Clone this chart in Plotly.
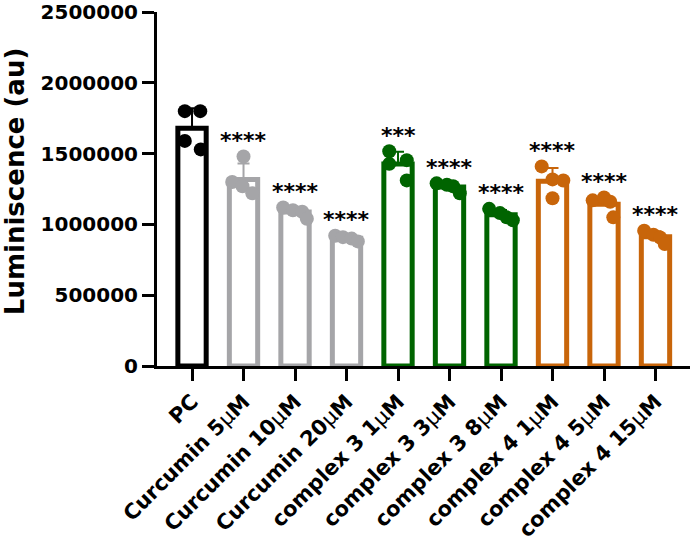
import plotly.graph_objects as go
import numpy as np

# ---- data ----
categories = ["PC", "Curcumin 5μM", "Curcumin 10μM", "Curcumin 20μM",
              "complex 3 1μM", "complex 3 3μM", "complex 3 8μM",
              "complex 4 1μM", "complex 4 5μM", "complex 4 15μM"]

pc        = [1800000, 1800000, 1590000, 1530000]
cur_5     = [1480000, 1300000, 1270000, 1220000]
cur_10    = [1120000, 1100000, 1090000, 1040000]
cur_20    = [920000, 910000, 900000, 880000]
c3_1      = [1517000, 1428000, 1454000, 1311000]
c3_3      = [1290000, 1280000, 1270000, 1220000]
c3_8      = [1110000, 1080000, 1050000, 1030000]
c4_1      = [1410000, 1318000, 1310000, 1185000]
c4_5      = [1170000, 1190000, 1160000, 1050000]
c4_15     = [955000, 927000, 908000, 862000]

stars = ["", "****", "****", "****", "***", "****", "****", "****", "****", "****"]

y_tick_vals = [0, 500000, 1000000, 1500000, 2000000, 2500000]
y_tick_text = ["0", "500000", "1000000", "1500000", "2000000", "2500000"]
y_title = "Luminiscence (au)"

# ---- styling ----
groups = [pc, cur_5, cur_10, cur_20, c3_1, c3_3, c3_8, c4_1, c4_5, c4_15]
BLACK, GREY, GREEN, ORANGE = "#000000", "#A5A5A8", "#006400", "#C8650A"
colors = [BLACK, GREY, GREY, GREY, GREEN, GREEN, GREEN, ORANGE, ORANGE, ORANGE]
point_offsets = [
    [-0.14, 0.16, -0.14, 0.17],
    [0.0, -0.22, -0.02, 0.17],
    [-0.23, -0.04, 0.14, 0.23],
    [-0.22, -0.07, 0.10, 0.22],
    [-0.17, -0.17, 0.17, 0.17],
    [-0.25, -0.05, 0.07, 0.20],
    [-0.23, -0.02, 0.11, 0.23],
    [-0.21, 0.0, 0.21, 0.0],
    [-0.22, 0.0, 0.12, 0.18],
    [-0.22, -0.04, 0.09, 0.18],
]
FONT = "DejaVu Sans"

fig = go.Figure()

for i, (vals, c) in enumerate(zip(groups, colors)):
    m = float(np.mean(vals))
    sd = float(np.std(vals, ddof=1))
    fig.add_trace(go.Bar(
        x=[i], y=[m], width=0.55,
        marker=dict(color="white", line=dict(color=c, width=5)),
        error_y=dict(type="data", symmetric=False, array=[sd], arrayminus=[0],
                     color=c, thickness=2, width=6),
        hoverinfo="skip",
    ))

for i, (vals, c) in enumerate(zip(groups, colors)):
    fig.add_trace(go.Scatter(
        x=[i + o for o in point_offsets[i]], y=vals, mode="markers",
        marker=dict(color=c, size=14, line=dict(width=0)),
        cliponaxis=False, hoverinfo="skip",
    ))

for i, (vals, s) in enumerate(zip(groups, stars)):
    if s:
        fig.add_annotation(x=i, y=max(vals), text=s, showarrow=False,
                           yanchor="middle", yshift=16,
                           font=dict(family=FONT, size=22, color="#000000", weight="bold"))

fig.add_annotation(xref="paper", yref="paper", x=-0.266, y=0.52, text=y_title,
                   textangle=-90, showarrow=False, xanchor="center", yanchor="middle",
                   font=dict(family=FONT, size=26, color="black", weight="bold"))

tick_text = [c.replace("μ", '<span style="font-weight:normal">μ</span>') for c in categories]

fig.update_layout(
    width=692, height=548,
    margin=dict(l=157, r=2, t=12, b=182, autoexpand=False),
    plot_bgcolor="white", paper_bgcolor="white",
    showlegend=False, barmode="overlay",
    xaxis=dict(range=[-0.68, 9.67], tickmode="array", tickvals=list(range(len(categories))),
               ticktext=tick_text, tickangle=-45, automargin=False,
               showline=True, linewidth=3, linecolor="black",
               ticks="outside", ticklen=12, tickwidth=3, tickcolor="black",
               tickfont=dict(family=FONT, size=21, color="black", weight="bold"),
               showgrid=False, zeroline=False, fixedrange=True),
    yaxis=dict(range=[0, 2500000 * 1.0002], tickmode="array", tickvals=y_tick_vals, ticktext=y_tick_text,
               automargin=False, ticklabeloverflow="allow",
               showline=True, linewidth=3, linecolor="black",
               ticks="outside", ticklen=12, tickwidth=3, tickcolor="black",
               tickfont=dict(family=FONT, size=20, color="black", weight="bold"),
               showgrid=False, zeroline=False, fixedrange=True),
)

fig.write_html("out.html")
